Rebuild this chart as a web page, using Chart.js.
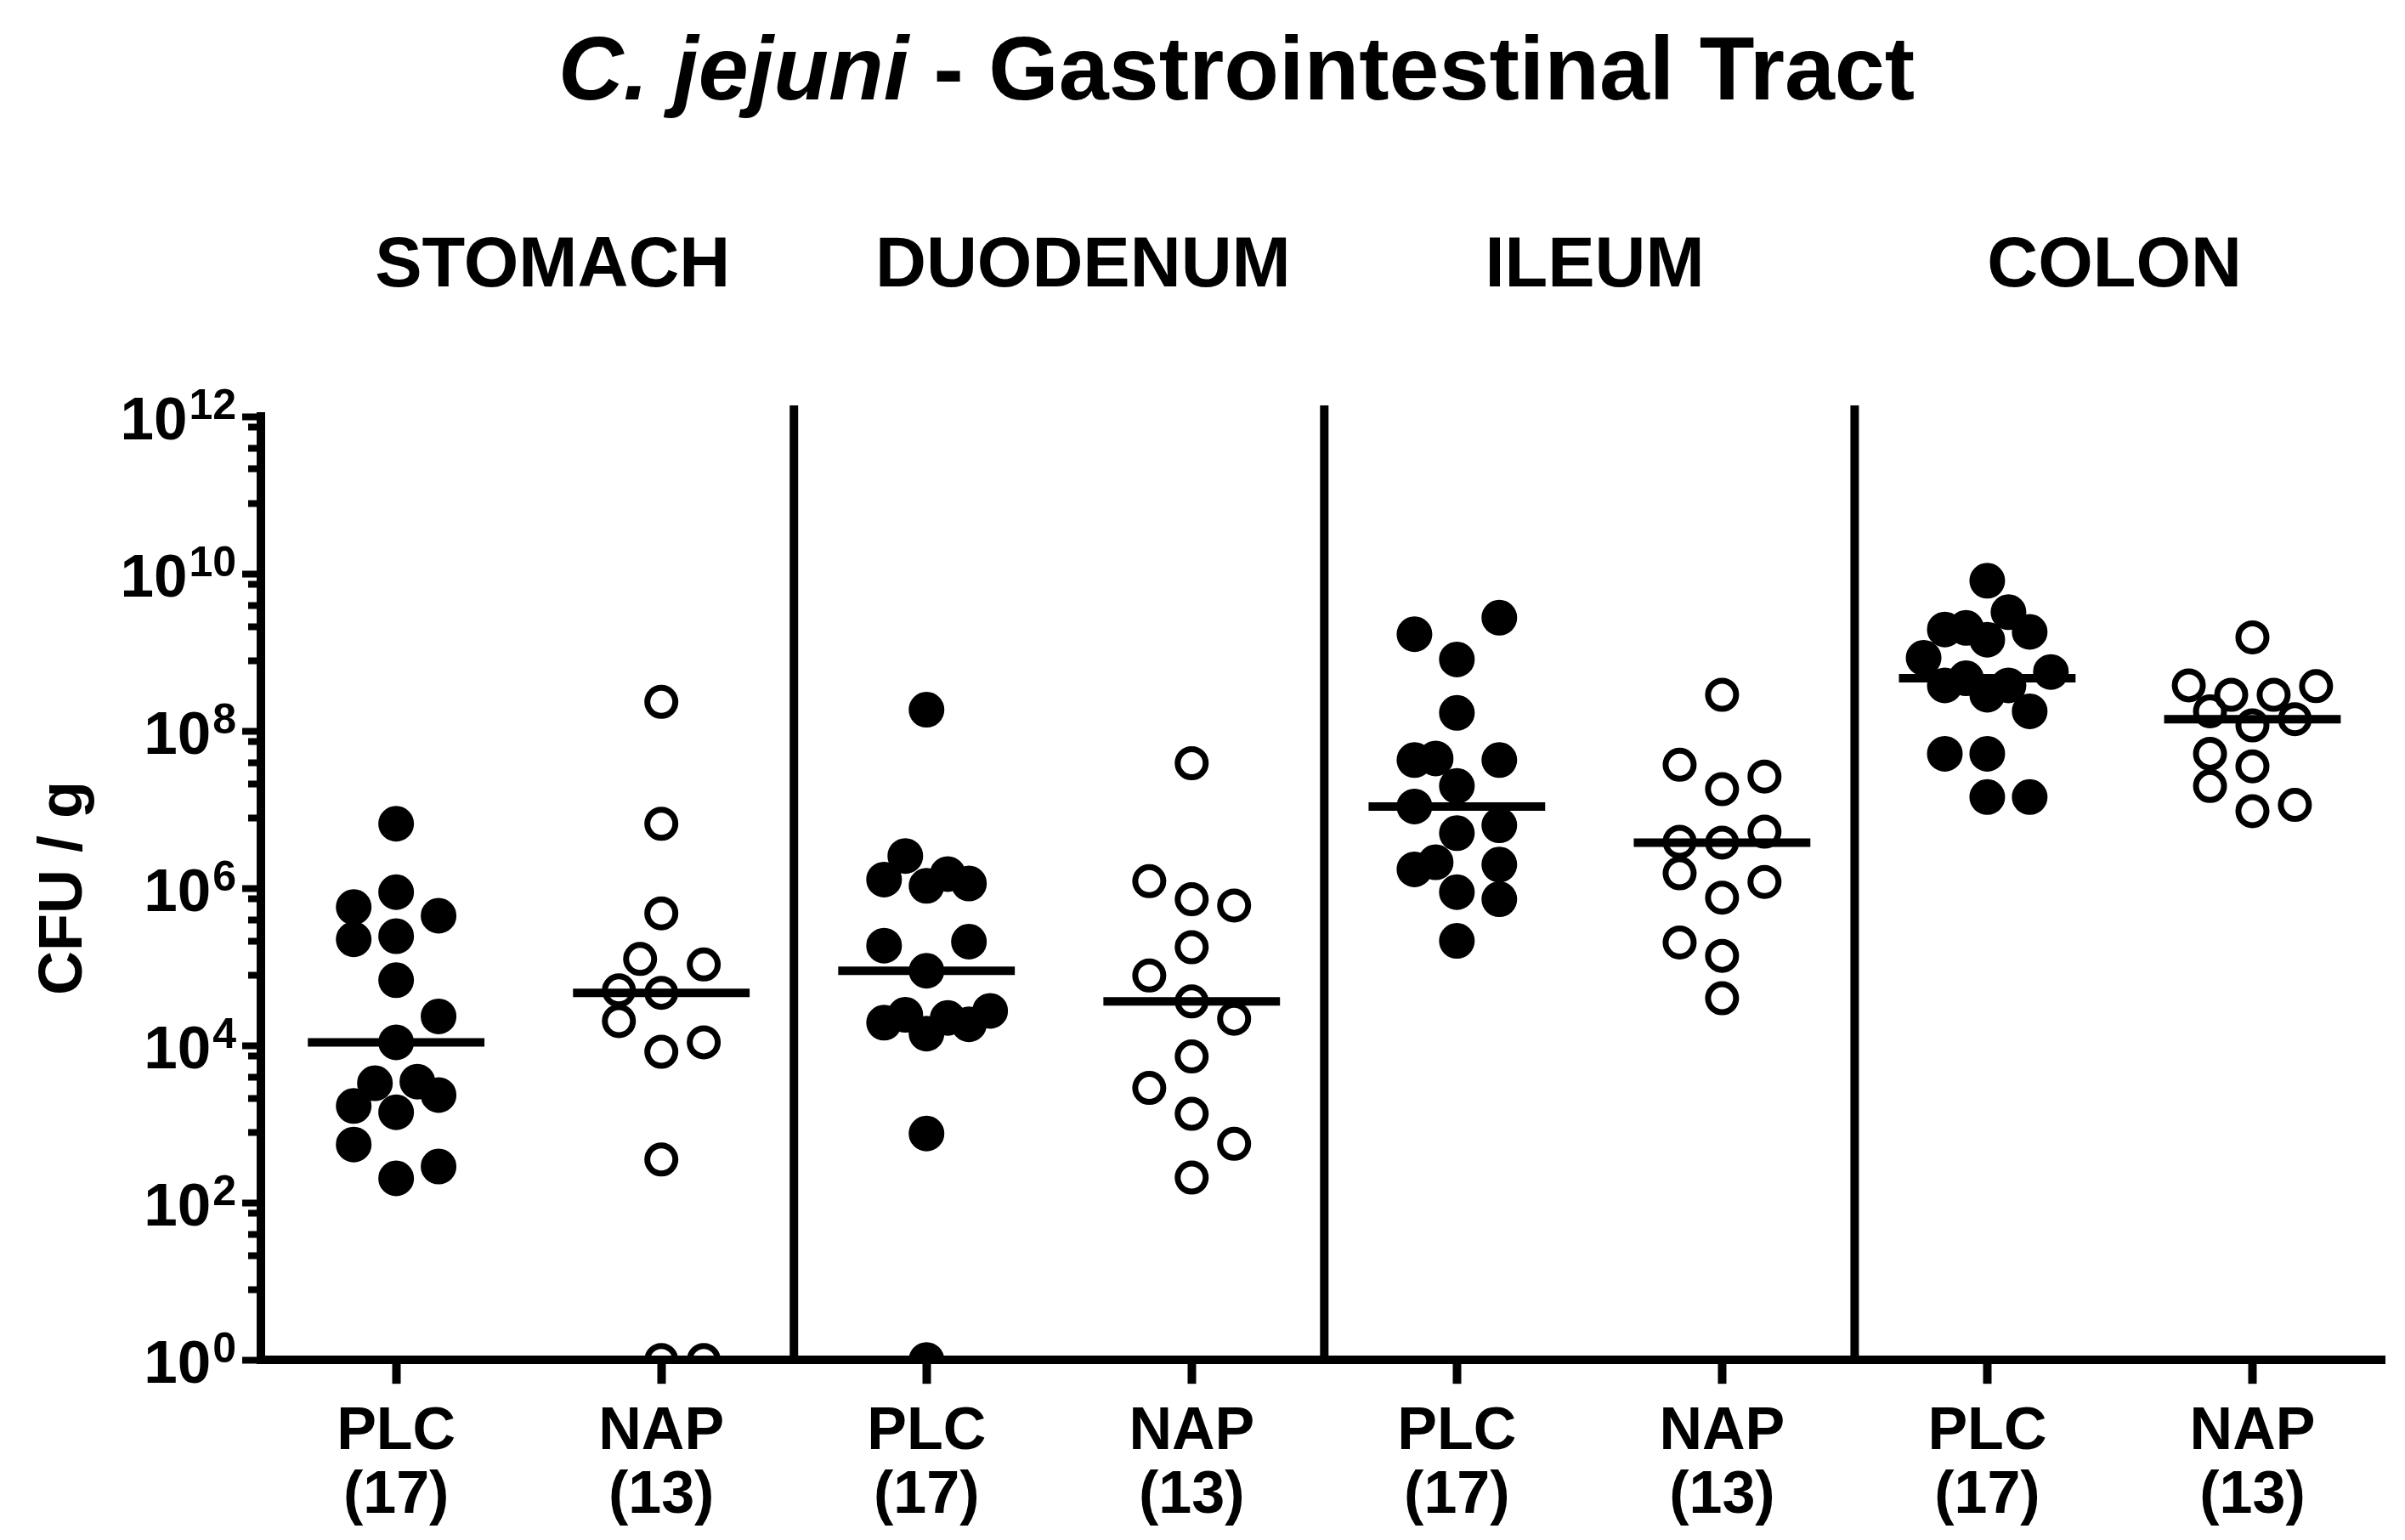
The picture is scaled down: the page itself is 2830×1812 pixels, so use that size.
<!DOCTYPE html>
<html><head><meta charset="utf-8">
<script src="https://cdn.jsdelivr.net/npm/chart.js@4.4.1/dist/chart.umd.min.js"></script>
<style>html,body{margin:0;padding:0;background:#fff;}canvas{display:block;}</style>
</head><body>
<canvas id="c" width="2830" height="1812"></canvas>
<script>
// ---------------- data (log10 CFU/g) ----------------
const organs = ['STOMACH', 'DUODENUM', 'ILEUM', 'COLON'];
const groupNames = ['PLC', 'NAP'];
const groupCounts = [17, 13];
const yExponents = [0, 2, 4, 6, 8, 10, 12];

const plcStomach  = [6.82, 5.76, 5.95, 5.65, 5.35, 5.39, 4.83, 4.37, 4.04, 3.52, 3.54, 3.23, 3.37, 3.15, 2.74, 2.46, 2.31];
const plcDuodenum = [8.27, 6.41, 6.11, 6.03, 6.18, 6.06, 5.27, 5.32, 4.95, 4.29, 4.39, 4.15, 4.35, 4.27, 4.44, 2.88, 0];
const plcIleum    = [9.44, 9.23, 8.91, 8.23, 7.63, 7.65, 7.63, 7.30, 7.04, 6.70, 6.80, 6.24, 6.33, 6.30, 5.95, 5.86, 5.33];
const plcColon    = [9.91, 9.51, 9.29, 9.31, 9.16, 9.26, 8.93, 8.58, 8.67, 8.46, 8.58, 8.25, 8.75, 7.71, 7.71, 7.16, 7.16];

const napStomach  = [8.37, 6.82, 5.68, 5.10, 5.03, 4.70, 4.67, 4.31, 3.92, 4.04, 2.55, 0, 0];
const napDuodenum = [7.59, 6.09, 5.86, 5.78, 5.25, 4.89, 4.56, 4.34, 3.86, 3.46, 3.13, 2.75, 2.32];
const napIleum    = [8.46, 7.57, 7.26, 7.42, 6.59, 6.58, 6.72, 6.19, 6.08, 5.88, 5.31, 5.14, 4.60];
const napColon    = [9.19, 8.58, 8.46, 8.46, 8.57, 8.25, 8.07, 8.15, 7.71, 7.55, 7.30, 6.98, 7.06];

// dot column (scatter-dot spreading) of each animal, as arranged in the figure
const plcStomachCol  = [0, -2, 0, 2, -2, 0, 0, 2, 0, -1, 1, -2, 2, 0, -2, 2, 0];
const plcDuodenumCol = [0, -1, -2, 0, 1, 2, -2, 2, 0, -2, -1, 0, 1, 2, 3, 0, 0];
const plcIleumCol    = [2, -2, 0, 0, -2, -1, 2, 0, -2, 0, 2, -2, -1, 2, 0, 2, 0];
const plcColonCol    = [0, 1, -2, -1, 0, 2, -3, -2, -1, 0, 1, 2, 3, -2, 0, 0, 2];
const napStomachCol  = [0, 0, 0, -1, 2, -2, 0, -2, 0, 2, 0, 0, 2];
const napDuodenumCol = [0, -2, 0, 2, 0, -2, 0, 2, 0, -2, 0, 2, 0];
const napIleumCol    = [0, -2, 0, 2, -2, 0, 2, -2, 2, 0, -2, 0, 0];
const napColonCol    = [0, -3, -1, 1, 3, -2, 0, 2, -2, 0, -2, 0, 2];

// ---------------- layout / style ----------------
const FONT = '"Liberation Sans", Arial, Helvetica, sans-serif';
const COL_STEP = 0.08;      // category units between dot columns
const MEDIAN_HALF = 0.333;  // half length of median bar, category units
const separatorsAt = [1.5, 3.5, 5.5];
const headerAt = [0.59, 2.59, 4.52, 6.48];
const minorOffsets = [0.13, 0.40, 0.67, 1.11];

function median(a) {
  const s = [...a].sort((p, q) => p - q), n = s.length;
  return n % 2 ? s[(n - 1) / 2] : (s[n / 2 - 1] + s[n / 2]) / 2;
}
const plcLogs = [plcStomach, plcDuodenum, plcIleum, plcColon];
const plcCols = [plcStomachCol, plcDuodenumCol, plcIleumCol, plcColonCol];
const napLogs = [napStomach, napDuodenum, napIleum, napColon];
const napCols = [napStomachCol, napDuodenumCol, napIleumCol, napColonCol];

function buildPoints(logsList, colsList, g) {
  const out = [];
  logsList.forEach((logs, o) => {
    const c = o * 2 + g;
    logs.forEach((v, i) => out.push({x: c + colsList[o][i] * COL_STEP, y: Math.pow(10, v)}));
  });
  return out;
}

const medianSets = [];
[plcLogs, napLogs].forEach((list, g) => {
  list.forEach((logs, o) => {
    const c = o * 2 + g, m = Math.pow(10, median(logs));
    medianSets.push({
      type: 'line', label: groupNames[g] + ' ' + organs[o] + ' median',
      data: [{x: c - MEDIAN_HALF, y: m}, {x: c + MEDIAN_HALF, y: m}],
      borderColor: '#000', borderWidth: 10, pointRadius: 0, borderCapStyle: 'butt',
      fill: false, order: 0
    });
  });
});

const yTickValues = [];
yExponents.forEach(e => yTickValues.push({value: Math.pow(10, e), major: true}));
yExponents.slice(1).forEach(e => minorOffsets.forEach(o => yTickValues.push({value: Math.pow(10, e - o), major: false})));
yTickValues.sort((a, b) => a.value - b.value);

const decorPlugin = {
  id: 'decor',
  beforeDatasetsDraw(chart) {
    const ctx = chart.ctx, xs = chart.scales.x, area = chart.chartArea;
    ctx.save();
    ctx.strokeStyle = '#000'; ctx.lineWidth = 10; ctx.lineCap = 'butt';
    separatorsAt.forEach(v => {
      const px = xs.getPixelForValue(v);
      ctx.beginPath(); ctx.moveTo(px, area.top - 13); ctx.lineTo(px, area.bottom); ctx.stroke();
    });
    ctx.restore();
  },
  afterDraw(chart) {
    const ctx = chart.ctx, xs = chart.scales.x, ys = chart.scales.y;
    ctx.save();
    ctx.fillStyle = '#000';
    // title
    const it = 'C. jejuni', rest = ' - Gastrointestinal Tract';
    ctx.font = 'italic bold 106px ' + FONT; const w1 = ctx.measureText(it).width;
    ctx.font = 'bold 106px ' + FONT; const w2 = ctx.measureText(rest).width;
    let tx = 1455 - (w1 + w2) / 2;
    ctx.textBaseline = 'alphabetic'; ctx.textAlign = 'left';
    ctx.font = 'italic bold 106px ' + FONT; ctx.fillText(it, tx, 117);
    ctx.font = 'bold 106px ' + FONT; ctx.fillText(rest, tx + w1, 117);
    // organ headers
    ctx.font = 'bold 83px ' + FONT; ctx.textAlign = 'center';
    organs.forEach((name, i) => ctx.fillText(name, xs.getPixelForValue(headerAt[i]), 337));
    // y tick labels 10^n
    yExponents.forEach(e => {
      const py = ys.getPixelForValue(Math.pow(10, e));
      ctx.font = 'bold 50px ' + FONT; const we = ctx.measureText(String(e)).width;
      ctx.textAlign = 'left'; ctx.fillText(String(e), 278 - we, py + 3);
      ctx.font = 'bold 71px ' + FONT; ctx.textAlign = 'right';
      ctx.fillText('10', 278 - we - 2, py + 27);
    });
    ctx.restore();
  }
};

new Chart(document.getElementById('c'), {
  type: 'scatter',
  data: {
    datasets: [
      ...medianSets,
      {label: 'PLC', data: buildPoints(plcLogs, plcCols, 0), pointRadius: 19, pointHoverRadius: 19,
       backgroundColor: '#000', borderColor: '#000', borderWidth: 4, order: 1},
      {label: 'NAP', data: buildPoints(napLogs, napCols, 1), pointRadius: 16.5, pointHoverRadius: 16.5,
       backgroundColor: 'rgba(255,255,255,0)', borderColor: '#000', borderWidth: 7, order: 1}
    ]
  },
  options: {
    responsive: false, devicePixelRatio: 1, animation: false,
    layout: {padding: {left: 10, right: 23, top: 490, bottom: -6}},
    plugins: {legend: {display: false}, tooltip: {enabled: false}, title: {display: false}},
    elements: {line: {tension: 0}},
    scales: {
      x: {
        type: 'linear', position: 'bottom', min: -0.51, max: 7.5,
        afterBuildTicks: s => { s.ticks = [0, 1, 2, 3, 4, 5, 6, 7].map(v => ({value: v})); },
        border: {display: true, width: 10, color: '#000'},
        grid: {drawOnChartArea: false, drawTicks: true, tickLength: 28, tickWidth: 10, tickColor: '#000'},
        ticks: {
          autoSkip: false, maxRotation: 0, minRotation: 0, padding: 20, color: '#000',
          font: {family: FONT, size: 70, weight: 'bold', lineHeight: 1.07},
          callback: v => [groupNames[v % 2], '(' + groupCounts[v % 2] + ')']
        }
      },
      y: {
        type: 'logarithmic', position: 'left', min: 1, max: 1e12,
        afterBuildTicks: s => { s.ticks = yTickValues.map(t => ({value: t.value, major: t.major})); },
        border: {display: true, width: 10, color: '#000'},
        grid: {
          drawOnChartArea: false, drawTicks: true, tickLength: 22, tickWidth: 8, tickColor: '#000',
          tickBorderDash: c => (c.tick && !c.tick.major) ? [0, 7, 30, 60] : []
        },
        ticks: {display: false},
        title: {display: true, text: 'CFU / g', color: '#000',
                font: {family: FONT, size: 72, weight: 'bold', lineHeight: 1},
                padding: {top: 30, bottom: 173}}
      }
    }
  },
  plugins: [decorPlugin]
});
</script>
</body></html>
